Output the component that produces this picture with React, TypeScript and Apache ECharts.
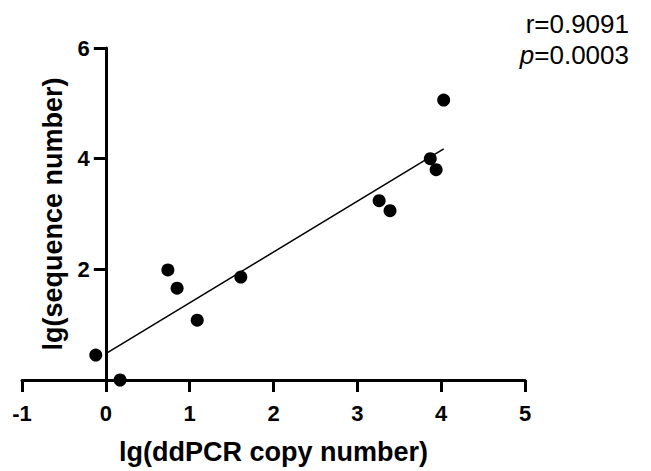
import React, { useEffect, useRef } from "react";
import * as echarts from "echarts";

const xValues = [-0.12, 0.17, 0.74, 0.85, 1.09, 1.61, 3.26, 3.39, 3.87, 3.94, 4.03];
const yValues = [0.45, 0.0, 1.99, 1.66, 1.08, 1.86, 3.24, 3.06, 4.0, 3.8, 5.06];
const xTicks = [-1, 0, 1, 2, 3, 4, 5];
const yTicks = [0, 2, 4, 6];
const statR = "0.9091";
const statP = "0.0003";
const xTitle = "lg(ddPCR copy number)";
const yTitle = "lg(sequence number)";

const FONT = "'Liberation Sans', Arial, sans-serif";

function fitLine(xs: number[], ys: number[]) {
  const n = xs.length;
  const mx = xs.reduce((a, b) => a + b, 0) / n;
  const my = ys.reduce((a, b) => a + b, 0) / n;
  let sxy = 0;
  let sxx = 0;
  for (let i = 0; i < n; i++) {
    sxy += (xs[i] - mx) * (ys[i] - my);
    sxx += (xs[i] - mx) * (xs[i] - mx);
  }
  const slope = sxy / sxx;
  const intercept = my - slope * mx;
  return { slope, intercept };
}

const GRID_LEFT = 22;
const GRID_RIGHT = 126;
const W = 651;

export default function App() {
  const ref = useRef<HTMLDivElement>(null);
  useEffect(() => {
    if (!ref.current) return;
    const chart = echarts.init(ref.current, undefined, { renderer: "svg" });
    const { slope, intercept } = fitLine(xValues, yValues);
    const x0 = 0;
    const x1 = Math.max(...xValues);
    const lineData = [
      [x0, intercept + slope * x0],
      [x1, intercept + slope * x1],
    ];
    const xMin = xTicks[0];
    const xMax = xTicks[xTicks.length - 1];
    const plotW = W - GRID_LEFT - GRID_RIGHT;
    // shift y axis so it sits at x = 0
    const yAxisShift = ((0 - xMin) / (xMax - xMin)) * plotW;
    chart.setOption({
      animation: false,
      backgroundColor: "#ffffff",
      grid: {
        left: GRID_LEFT,
        right: GRID_RIGHT,
        top: 48,
        bottom: 91,
        containLabel: false,
        outerBoundsMode: "none",
      },
      xAxis: {
        type: "value",
        min: xMin,
        max: xMax,
        interval: 1,
        splitLine: { show: false },
        axisLine: { show: true, onZero: false, lineStyle: { color: "#000", width: 3 } },
        axisTick: { show: true, inside: false, length: 12, lineStyle: { color: "#000", width: 3 } },
        axisLabel: {
          margin: 22,
          color: "#000",
          fontFamily: FONT,
          fontWeight: "bold",
          fontSize: 22,
        },
        name: xTitle,
        nameLocation: "middle",
        nameGap: 58,
        nameTextStyle: { color: "#000", fontFamily: FONT, fontWeight: "bold", fontSize: 27 },
      },
      yAxis: {
        type: "value",
        min: yTicks[0],
        max: yTicks[yTicks.length - 1],
        interval: 2,
        offset: -yAxisShift,
        splitLine: { show: false },
        axisLine: { show: true, onZero: false, lineStyle: { color: "#000", width: 3 } },
        axisTick: { show: true, inside: false, length: 12, lineStyle: { color: "#000", width: 3 } },
        axisLabel: {
          margin: 16,
          color: "#000",
          fontFamily: FONT,
          fontWeight: "bold",
          fontSize: 22,
          formatter: (v: number) => (v === 0 ? "" : String(v)),
        },
        name: yTitle,
        nameLocation: "middle",
        nameGap: 39,
        nameRotate: 90,
        nameTextStyle: { color: "#000", fontFamily: FONT, fontWeight: "bold", fontSize: 27 },
      },
      series: [
        {
          type: "line",
          data: lineData,
          showSymbol: false,
          symbol: "none",
          lineStyle: { color: "#000", width: 1.5 },
          z: 2,
        },
        {
          type: "scatter",
          data: xValues.map((x, i) => [x, yValues[i]]),
          symbol: "circle",
          symbolSize: 13,
          itemStyle: { color: "#000", opacity: 1 },
          z: 3,
        },
      ],
      graphic: [
        {
          type: "text",
          x: 629,
          y: 24,
          style: {
            text: "r=" + statR,
            fill: "#000",
            font: `26px ${FONT}`,
            align: "right",
            verticalAlign: "middle",
          },
        },
        {
          type: "text",
          x: 629,
          y: 55,
          style: {
            text: "{i|p}=" + statP,
            fill: "#000",
            font: `26px ${FONT}`,
            align: "right",
            verticalAlign: "middle",
            rich: {
              i: { fontStyle: "italic", fontSize: 26, fontFamily: FONT, fill: "#000" },
            },
          },
        },
      ],
    });
    return () => chart.dispose();
  }, []);
  return (
    <div
      ref={ref}
      style={{ position: "fixed", left: 0, top: 0, width: W, height: 471, background: "#fff" }}
    />
  );
}
